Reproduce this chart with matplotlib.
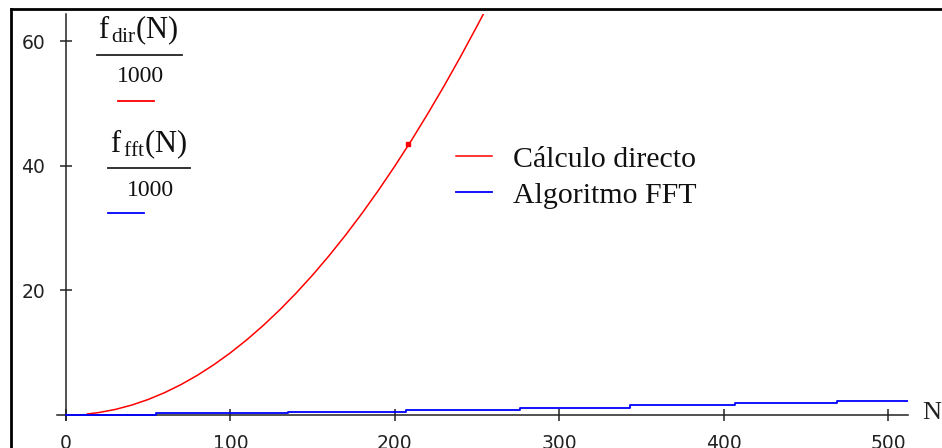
import matplotlib
matplotlib.use("Agg")
import matplotlib.pyplot as plt
from matplotlib.lines import Line2D

# data (values already divided by 1000)
n_dir = [13, 20, 30, 40, 50, 60, 70, 80, 90, 100, 110, 120, 130, 140, 150,
         160, 170, 180, 190, 200, 210, 220, 230, 240, 250, 256]
f_dir = [0.17, 0.4, 0.9, 1.6, 2.5, 3.6, 4.9, 6.4, 8.1, 10.0, 12.1, 14.4, 16.9,
         19.6, 22.5, 25.6, 28.9, 32.4, 36.1, 40.0, 44.1, 48.4, 52.9, 57.6,
         62.5, 65.5]
n_fft = [0, 55, 135, 207, 276, 343, 407, 469, 512]
f_fft = [0.03, 0.27, 0.53, 0.86, 1.2, 1.55, 1.88, 2.2, 2.2]
dot_n = [208]
dot_f = [43.6]

x_ticks = [0, 100, 200, 300, 400, 500]
y_ticks = [20, 40, 60]
legend_labels = ["Cálculo directo", "Algoritmo FFT"]

W, H = 942, 448
plt.rcParams["mathtext.fontset"] = "custom"
plt.rcParams["mathtext.rm"] = "Liberation Serif"
plt.rcParams["mathtext.it"] = "Liberation Serif"

fig = plt.figure(figsize=(W / 100, H / 100), dpi=100)
fig.patch.set_facecolor("white")


def px(x, y):
    # pixel position (from top-left) -> figure fraction
    return x / W, 1 - y / H


ax = fig.add_axes([57 / W, (H - 420) / H, (908 - 57) / W, (420 - 14) / H])
ax.set_xlim(-5.5, 512)
ax.set_ylim(-0.8, 64.4)

l1, = ax.plot(n_dir, f_dir, color="#ff0000", lw=1.1, zorder=3)
l2, = ax.plot(n_fft, f_fft, color="#0000ff", lw=1.3, drawstyle="steps-post", zorder=3)
ax.plot(dot_n, dot_f, "s", color="#ff0000", ms=2.5, zorder=4)

for side in ["top", "right"]:
    ax.spines[side].set_visible(False)
ax.spines["left"].set_position(("data", 0))
ax.spines["bottom"].set_position(("data", 0))
for side in ["left", "bottom"]:
    ax.spines[side].set_linewidth(1.1)
    ax.spines[side].set_color("#222222")

ax.set_xticks(x_ticks)
ax.set_yticks(y_ticks)
ax.tick_params(axis="both", direction="inout", length=8, width=1.1,
               color="#222222", labelsize=13.5, labelcolor="#222222")
ax.tick_params(axis="y", pad=11)
ax.tick_params(axis="x", pad=9.5)
for lab in ax.get_xticklabels() + ax.get_yticklabels():
    lab.set_fontfamily("DejaVu Sans")

# axis name at the end of the x axis
fig.text(*px(922, 413), "N", fontsize=19, family="Liberation Serif",
         va="center", ha="left", color="#222222")

# Mathcad style trace labels at the upper left
serif = "Liberation Serif"
fig.text(*px(138, 30), r"$\mathrm{f}_{\,\mathrm{dir}}\mathrm{(N)}$", fontsize=22,
         ha="center", va="center", color="#111111")
fig.add_artist(Line2D([97 / W, 182 / W], [1 - 55 / H] * 2, color="#222222", lw=1.3))
fig.text(*px(140, 76), "1000", fontsize=17, family=serif, ha="center", va="center",
         color="#111111")
fig.add_artist(Line2D([118 / W, 154 / W], [1 - 101 / H] * 2, color="#ff0000", lw=1.3))

fig.text(*px(149, 144), r"$\mathrm{f}_{\,\mathrm{fft}}\mathrm{(N)}$", fontsize=22,
         ha="center", va="center", color="#111111")
fig.add_artist(Line2D([108 / W, 190 / W], [1 - 168 / H] * 2, color="#222222", lw=1.3))
fig.text(*px(150, 190), "1000", fontsize=17, family=serif, ha="center", va="center",
         color="#111111")
fig.add_artist(Line2D([108 / W, 144 / W], [1 - 213 / H] * 2, color="#0000ff", lw=1.3))

leg = ax.legend([l1, l2], legend_labels, loc="upper left",
                bbox_to_anchor=px(456, 146), bbox_transform=fig.transFigure,
                frameon=False, borderpad=0, borderaxespad=0, handlelength=1.2,
                handletextpad=0.7, labelspacing=0.3,
                prop={"family": serif, "size": 21.5})
for t in leg.get_texts():
    t.set_color("#111111")

# screenshot frame on the top and left edges
fig.add_artist(Line2D([11 / W, 1], [1 - 9 / H] * 2, color="black", lw=2))
fig.add_artist(Line2D([11 / W, 11 / W], [0, 1 - 9 / H], color="black", lw=2))

fig.savefig("out.png", dpi=100)
